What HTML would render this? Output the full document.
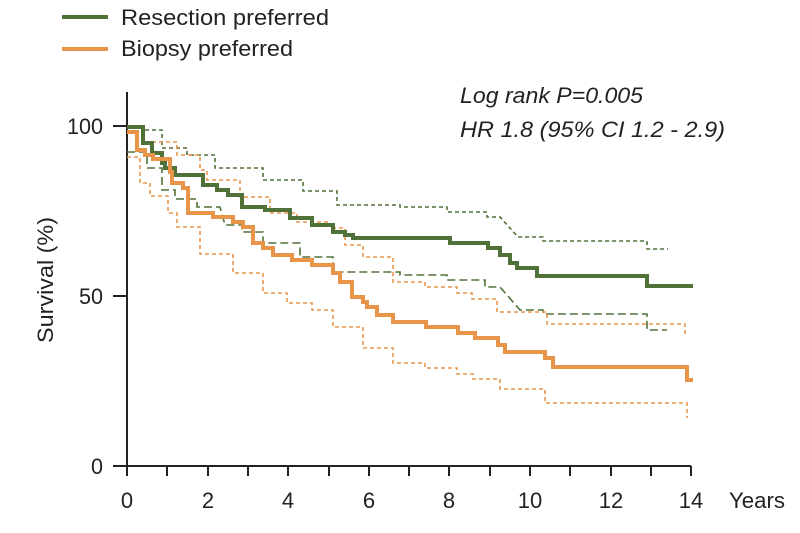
<!DOCTYPE html>
<html><head><meta charset="utf-8"><style>body{margin:0;background:#fff}svg{display:block}text{font-family:"Liberation Sans",sans-serif;fill:#222}</style></head><body>
<svg width="800" height="533" xmlns="http://www.w3.org/2000/svg">
<g stroke="#222" stroke-width="2" fill="none">
<path d="M127 92V466H691"/>
<path d="M113 126H127M113 296H127M113 466H127"/>
<path d="M127 466v10M167 466v10M208 466v10M248 466v10M288 466v10M329 466v10M369 466v10M409 466v10M449 466v10M490 466v10M530 466v10M570 466v10M611 466v10M651 466v10M691 466v10"/>
</g>
<g font-size="22">
<text x="103" y="134" text-anchor="end" textLength="36" lengthAdjust="spacingAndGlyphs">100</text>
<text x="103" y="304" text-anchor="end" textLength="24" lengthAdjust="spacingAndGlyphs">50</text>
<text x="103" y="474" text-anchor="end" textLength="12" lengthAdjust="spacingAndGlyphs">0</text>
<text x="127" y="508" text-anchor="middle">0</text>
<text x="208" y="508" text-anchor="middle">2</text>
<text x="288" y="508" text-anchor="middle">4</text>
<text x="369" y="508" text-anchor="middle">6</text>
<text x="449" y="508" text-anchor="middle">8</text>
<text x="530" y="508" text-anchor="middle">10</text>
<text x="611" y="508" text-anchor="middle">12</text>
<text x="691" y="508" text-anchor="middle">14</text>
<text x="729" y="508" textLength="56" lengthAdjust="spacingAndGlyphs">Years</text>
<text transform="translate(53,280) rotate(-90)" text-anchor="middle" textLength="126" lengthAdjust="spacingAndGlyphs">Survival (%)</text>
</g>
<g font-size="22" font-style="italic">
<text x="460" y="103" textLength="183" lengthAdjust="spacingAndGlyphs">Log rank P=0.005</text>
<text x="460" y="137" textLength="265" lengthAdjust="spacingAndGlyphs">HR 1.8 (95% CI 1.2 - 2.9)</text>
</g>
<g font-size="22">
<text x="121" y="25" textLength="208" lengthAdjust="spacingAndGlyphs">Resection preferred</text>
<text x="121" y="56" textLength="172" lengthAdjust="spacingAndGlyphs">Biopsy preferred</text>
</g>
<path d="M62 17H108" stroke="#507238" stroke-width="4"/>
<path d="M62 49H108" stroke="#e8954a" stroke-width="4"/>
<g fill="none" stroke-width="1.6">
<path stroke="#507238" stroke-dasharray="4 3" d="M127 127H143V130H162V148H187V155H215V168H263V180H303V191H337V205H400V207H447V212H487V217H500L518 237H543V241H647V249H668"/>
<path stroke="#507238" stroke-dasharray="8 4" d="M127 152H147V168H162V190H175V199H197V207H220L225 225H242V232H263V243H300V257H333V272H400V275H447V280H485V287H500L520 310H543V314H647V330H667"/>
<path stroke="#e8954a" stroke-dasharray="4 3" d="M127 132H143V142H177V155H200V170H207V180H240V197H270V213H297V222H330V228H345V245H363V257H393V282H425V287H457V293H472V299H497V312H547V324H685V333H688"/>
<path stroke="#e8954a" stroke-dasharray="4 3" d="M127 157H140V183H150V196H168V213H177V227H200V254H233V273H263V293H287V303H312V310H333V327H363V348H393V363H425V368H457V374H473V379H500V389H545V403H687V418"/>
</g>
<g fill="none" stroke-width="4">
<path stroke="#507238" d="M127 127H143V143H152V153H162V163H165V168H175V175H203V185H217V190H228V195H242V207H265V210H290V218H312V225H333V232H345V235H353V238H450V243H488V248H500V255H510V263H517V268H537V276H647V286H693"/>
<path stroke="#e8954a" d="M127 132H137V150H145V155H153V159H170V172H172V183H183V188H188V213H213V217H233V222H243V227H253V243H263V248H273V255H292V260H312V265H333V273H340V282H352V297H363V302H367V307H377V315H393V322H426V327H458V333H475V338H498V345H505V352H545V358H553V367H687V380H693"/>
</g>
</svg>
</body></html>
